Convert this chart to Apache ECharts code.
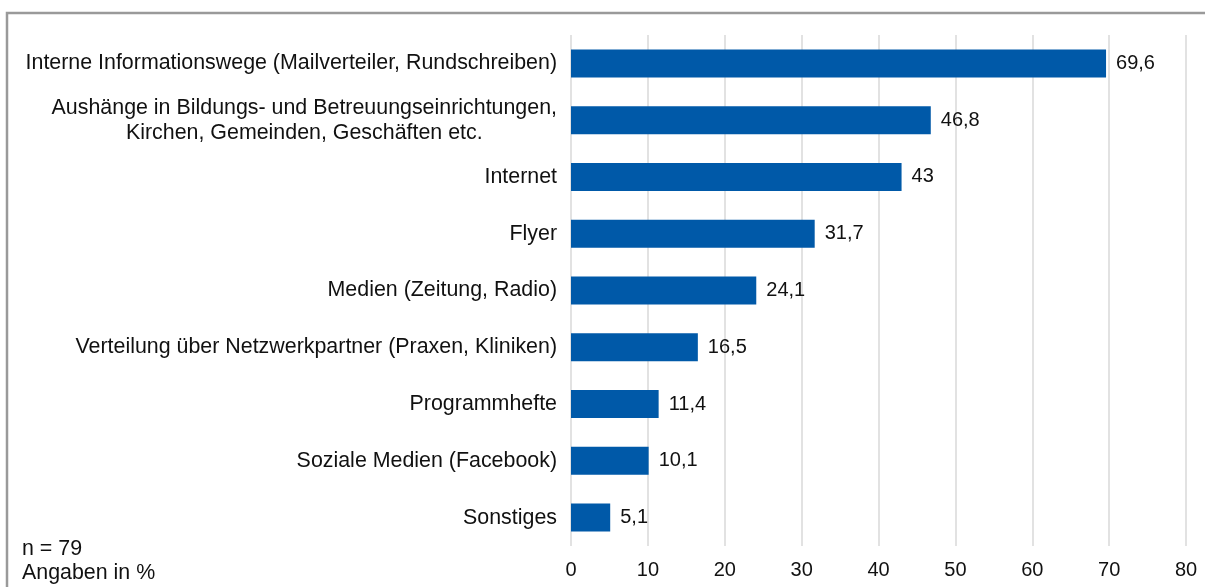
<!DOCTYPE html>
<html>
<head>
<meta charset="utf-8">
<script src="https://cdn.jsdelivr.net/npm/echarts@6/dist/echarts.min.js"></script>
<style>
  html, body { margin: 0; padding: 0; background: #fff; }
  #chart { width: 1205px; height: 587px; }
</style>
</head>
<body>
<div id="chart"></div>
<script>
// Kategorien (von oben nach unten)
const categories = [
  'Interne Informationswege (Mailverteiler, Rundschreiben)',
  'Aushänge in Bildungs- und Betreuungseinrichtungen,\nKirchen, Gemeinden, Geschäften etc.',
  'Internet',
  'Flyer',
  'Medien (Zeitung, Radio)',
  'Verteilung über Netzwerkpartner (Praxen, Kliniken)',
  'Programmhefte',
  'Soziale Medien (Facebook)',
  'Sonstiges'
]
const values = [69.6, 46.8, 43, 31.7, 24.1, 16.5, 11.4, 10.1, 5.1]
const xTicks = [0, 10, 20, 30, 40, 50, 60, 70, 80]
const noteLines = ['n = 79', 'Angaben in %']

const fontFamily = '"Liberation Sans", Arial, sans-serif'
const barColor = '#0059a8'

const chart = echarts.init(document.getElementById('chart'))

const option = {
  backgroundColor: '#fff',
  animation: false,
  grid: {
    left: 571,
    right: 19,
    top: 35,
    bottom: 41,
    containLabel: false,
  },
  xAxis: {
    type: 'value',
    min: xTicks[0],
    max: xTicks[xTicks.length - 1],
    interval: 10,
    axisLine: { show: false },
    axisTick: { show: false },
    axisLabel: {
      color: '#111',
      fontSize: 20,
      fontFamily,
      margin: 14,
    },
    splitLine: {
      lineStyle: { color: '#d9d9d9', width: 1.5 },
    },
  },
  yAxis: {
    type: 'category',
    inverse: true,
    data: categories,
    axisLine: { show: false },
    axisTick: { show: false },
    axisLabel: {
      margin: 14,
      formatter: (v) => '{c|' + v + '}',
      rich: {
        c: {
          color: '#111',
          fontSize: 21.4,
          fontFamily,
          align: 'center',
          lineHeight: 25,
        },
      },
    },
  },
  series: [
    {
      type: 'bar',
      data: values,
      barWidth: 28,
      itemStyle: { color: barColor },
      label: {
        show: true,
        position: 'right',
        distance: 10,
        color: '#111',
        fontSize: 20,
        fontFamily,
        formatter: (p) => String(p.value).replace('.', ','),
      },
    },
  ],
  graphic: [
    {
      type: 'polyline',
      shape: { points: [[7, 587], [7, 13], [1205, 13]] },
      style: { stroke: '#9a9a9a', lineWidth: 2.5, fill: null },
      silent: true,
    },
    {
      type: 'text',
      left: 22,
      top: 537,
      style: {
        text: noteLines.join('\n'),
        fontSize: 21.4,
        fontFamily,
        fill: '#111',
        lineHeight: 24,
      },
    },
  ],
}

chart.setOption(option)
window.addEventListener('resize', () => chart.resize())
</script>
</body>
</html>
